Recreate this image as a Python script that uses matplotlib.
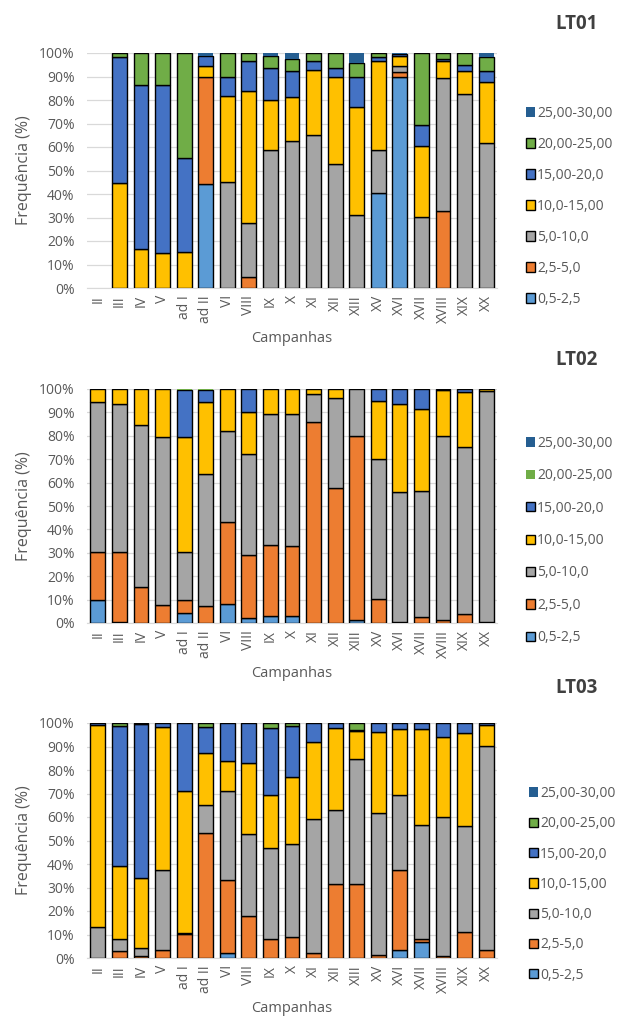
import matplotlib.pyplot as plt
import numpy as np

plt.rcParams["font.family"] = ["Open Sans", "DejaVu Sans"]

campanhas = ["II", "III", "IV", "V", "ad I", "ad II", "VI", "VIII", "IX", "X",
             "XI", "XII", "XIII", "XV", "XVI", "XVII", "XVIII", "XIX", "XX"]

classes = ["0,5-2,5", "2,5-5,0", "5,0-10,0", "10,0-15,00",
           "15,00-20,0", "20,00-25,00", "25,00-30,00"]
colors = ["#5B9BD5", "#ED7D31", "#A5A5A5", "#FFC000",
          "#4472C4", "#70AD47", "#255E91"]

# LT01 - frequencia (%) por classe
lt01_c1 = [0, 0, 0, 0, 0, 44.2, 0, 0, 0, 0, 0, 0, 0, 40.4, 89.7, 0, 0, 0, 0]
lt01_c2 = [0, 0, 0, 0, 0, 45.5, 0, 4.7, 0, 0, 0, 0, 0, 0, 2.2, 0, 32.6, 0, 0]
lt01_c3 = [0, 0, 0, 0, 0, 0, 45.0, 23.1, 58.6, 62.5, 64.9, 52.7, 31.2, 18.2, 2.4, 30.3, 56.6, 82.4, 61.6]
lt01_c4 = [0, 44.5, 16.6, 14.9, 15.4, 4.6, 36.6, 56.1, 21.6, 18.9, 28.0, 37.2, 45.7, 37.9, 4.6, 30.0, 7.4, 10.1, 26.1]
lt01_c5 = [0, 53.7, 69.8, 71.4, 40.0, 4.6, 8.3, 12.6, 13.3, 10.8, 3.7, 3.7, 12.8, 1.7, 0.5, 9.1, 1.0, 2.5, 4.7]
lt01_c6 = [0, 1.8, 13.6, 13.7, 44.6, 0, 10.1, 3.5, 5.3, 5.3, 3.4, 6.4, 5.9, 1.8, 0, 30.6, 2.4, 5.0, 5.8]
lt01_c7 = [0, 0, 0, 0, 0, 1.1, 0, 0, 1.2, 2.5, 0, 0, 4.4, 0, 0.6, 0, 0, 0, 1.8]

# LT02
lt02_c1 = [9.8, 0.5, 0, 0, 4.4, 0, 8.0, 2.0, 2.8, 2.8, 0, 0, 1.3, 0, 0.3, 0, 0, 0, 0.6]
lt02_c2 = [20.5, 29.8, 15.2, 7.7, 5.6, 7.4, 35.1, 26.9, 30.6, 29.9, 86.1, 57.6, 78.6, 10.2, 0, 2.4, 1.1, 3.8, 0]
lt02_c3 = [64.1, 63.3, 69.6, 71.7, 20.2, 56.3, 39.0, 43.4, 56.1, 56.8, 11.9, 38.7, 20.1, 59.8, 55.7, 54.2, 78.7, 71.3, 98.7]
lt02_c4 = [5.6, 6.4, 15.2, 20.6, 49.2, 30.9, 17.9, 17.9, 10.5, 10.5, 2.0, 3.7, 0, 25.0, 37.6, 34.7, 19.7, 23.6, 0.7]
lt02_c5 = [0, 0, 0, 0, 20.2, 4.9, 0, 9.8, 0, 0, 0, 0, 0, 5.0, 6.4, 8.7, 0.5, 1.3, 0]
lt02_c6 = [0, 0, 0, 0, 0.4, 0.5, 0, 0, 0, 0, 0, 0, 0, 0, 0, 0, 0, 0, 0]
lt02_c7 = [0] * 19

# LT03
lt03_c1 = [0, 0, 0, 0, 0, 0, 2.3, 0, 0, 0, 0, 0, 0, 0, 3.5, 7.0, 0, 0, 0]
lt03_c2 = [0, 3.0, 1.0, 3.5, 10.2, 53.2, 31.0, 17.7, 8.1, 8.9, 2.0, 31.5, 31.5, 1.3, 34.1, 1.0, 1.0, 10.9, 3.5]
lt03_c3 = [13.0, 4.9, 3.4, 34.1, 0.6, 11.8, 37.9, 34.9, 38.7, 39.5, 57.1, 31.3, 53.2, 60.4, 31.6, 48.5, 58.9, 45.3, 86.6]
lt03_c4 = [86.3, 31.4, 29.6, 60.7, 60.4, 22.2, 12.5, 30.2, 22.7, 28.8, 33.0, 35.1, 12.0, 34.3, 28.4, 40.9, 34.0, 39.4, 9.2]
lt03_c5 = [0.7, 59.4, 65.5, 1.7, 28.8, 11.2, 16.3, 17.2, 28.4, 21.5, 7.9, 2.1, 0.5, 4.0, 2.4, 2.6, 6.1, 4.4, 0.7]
lt03_c6 = [0, 1.3, 0.5, 0, 0, 1.6, 0, 0, 2.1, 1.3, 0, 0, 2.8, 0, 0, 0, 0, 0, 0]
lt03_c7 = [0] * 19

panels = [
    ("LT01", [lt01_c1, lt01_c2, lt01_c3, lt01_c4, lt01_c5, lt01_c6, lt01_c7], {6}),
    ("LT02", [lt02_c1, lt02_c2, lt02_c3, lt02_c4, lt02_c5, lt02_c6, lt02_c7], {5, 6}),
    ("LT03", [lt03_c1, lt03_c2, lt03_c3, lt03_c4, lt03_c5, lt03_c6, lt03_c7], {6}),
]

W, H = 618, 1023
fig = plt.figure(figsize=(W / 100, H / 100), dpi=100)

# axes boxes in pixels: left, top, right, bottom
boxes = [(87, 53, 497, 288), (87, 389, 497, 623), (87, 723, 497, 958)]
legend_pos = [(519, 99), (519, 429), (522, 779)]
legend_gap = [1.15, 1.25, 1.1]
title_pos = [(577, 24), (577, 360), (577, 688)]

gray_txt = "#595959"
x = np.arange(len(campanhas))

for k, (name, series, no_edge) in enumerate(panels):
    l, t, r, b = boxes[k]
    lx, ly = legend_pos[k]
    tx, ty = title_pos[k]
    ax = fig.add_axes([l / W, 1 - b / H, (r - l) / W, (b - t) / H])
    bottom = np.zeros(len(campanhas))
    handles = []
    for i, vals in enumerate(series):
        vals = np.array(vals, dtype=float)
        ec = "none" if i in no_edge else "black"
        nz = vals > 0
        ax.bar(x[nz], vals[nz], 0.69, bottom=bottom[nz], color=colors[i],
               edgecolor=ec, linewidth=1.0, zorder=3)
        bottom += vals
        handles.append(plt.Rectangle((0, 0), 1, 1, facecolor=colors[i],
                                     edgecolor=ec, linewidth=1.0))

    ax.set_xlim(-0.5, len(campanhas) - 0.5)
    ax.set_ylim(0, 100)
    ax.set_yticks(np.arange(0, 101, 10))
    ax.set_yticklabels([f"{v}%" for v in range(0, 101, 10)])
    ax.set_xticks(x)
    ax.set_xticklabels(campanhas, rotation=90)
    ax.tick_params(axis="y", length=0, labelsize=10, colors=gray_txt, pad=9)
    ax.tick_params(axis="x", length=0, labelsize=10, colors=gray_txt, pad=5)
    ax.grid(axis="y", color="#D9D9D9", linewidth=0.9, zorder=0)
    for s in ["top", "right", "left"]:
        ax.spines[s].set_visible(False)
    ax.spines["bottom"].set_color("#D9D9D9")
    ax.set_ylabel("Frequência (%)", fontsize=11.5, color=gray_txt, labelpad=5)
    ax.set_xlabel("Campanhas", fontsize=10.5, color=gray_txt, labelpad=6)

    fig.legend(handles[::-1], classes[::-1], loc="upper left",
               bbox_to_anchor=(lx / W, 1 - ly / H), frameon=False,
               fontsize=10, labelcolor=gray_txt, handlelength=0.65,
               handleheight=0.65, handletextpad=0.15,
               labelspacing=legend_gap[k], borderpad=0)

    fig.text(tx / W, 1 - ty / H, name, fontsize=13.5, fontweight="bold",
             color="#404040", ha="center", va="center")

fig.savefig("out.png", dpi=100)
